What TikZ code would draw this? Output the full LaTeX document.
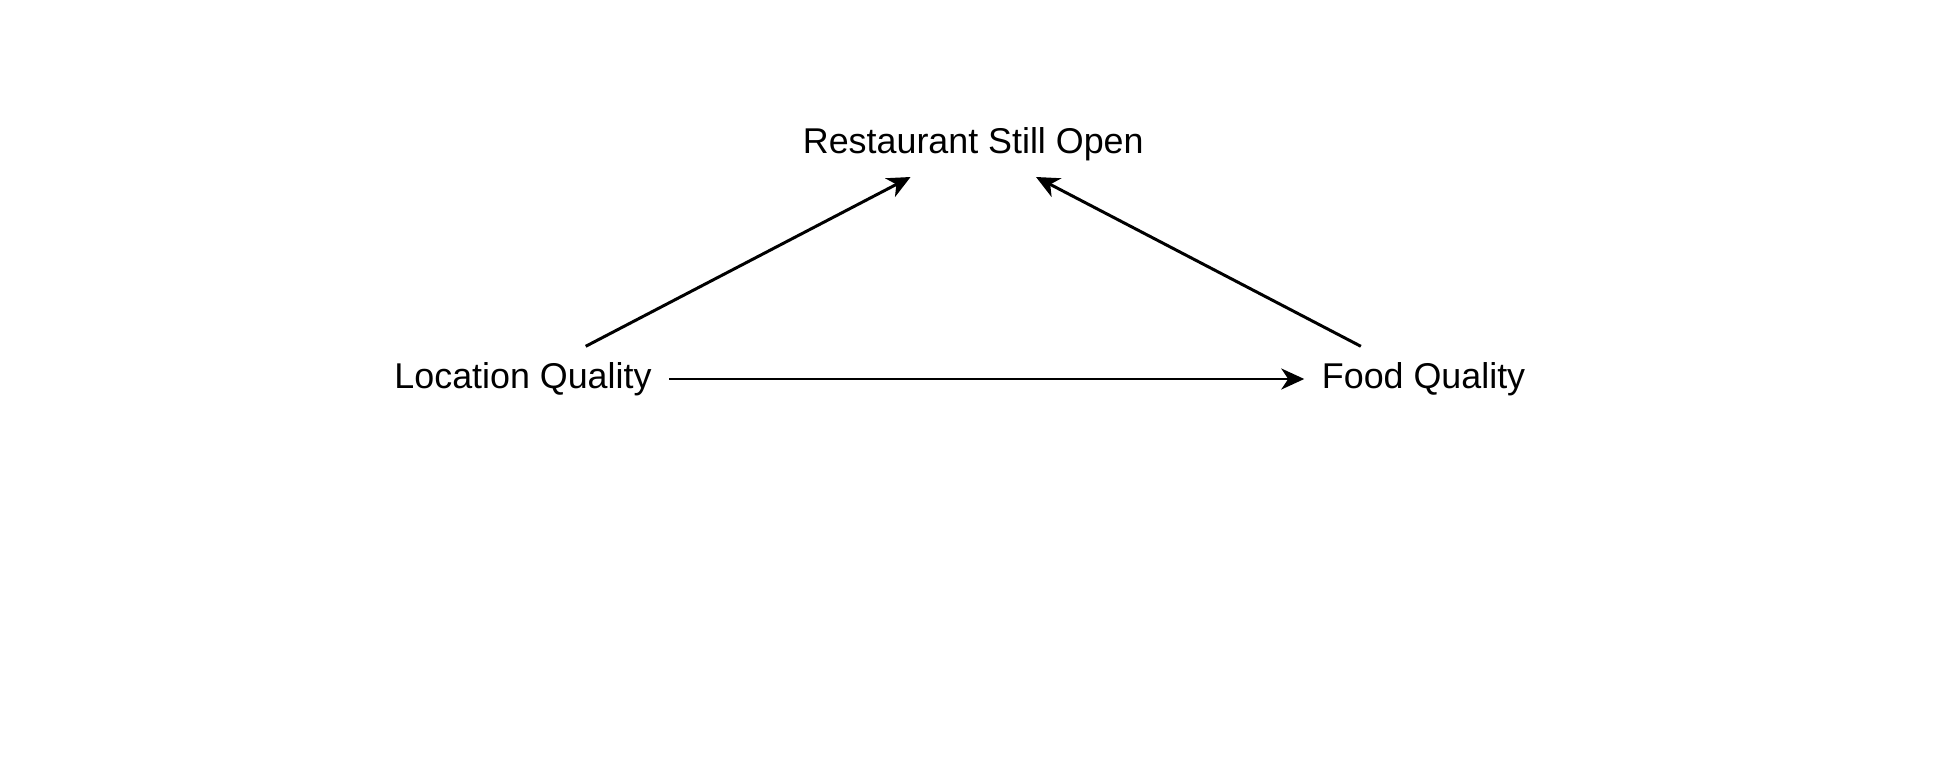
\documentclass[tikz,border=0pt]{standalone}
\usepackage{fontspec}
\setmainfont{Liberation Sans}
\usetikzlibrary{positioning,arrows.meta}

\begin{document}
\begin{tikzpicture}[
        node distance=6.35cm,
        varnode/.style={font=\fontsize{10.2}{12}\selectfont, text height=0.26cm, text depth=0.08cm, inner xsep=0.17cm, inner ysep=0.15cm},
        effect/.style={draw, line width=0.85pt, -{Stealth[length=0.23cm, width=0.21cm, inset=0.07cm]}}]
    \useasboundingbox (0,0) rectangle (19.44,7.56);
    \node[varnode] (L) at (5.23,3.77) {Location Quality};
    \node[varnode] (F) [right=of L] {Food Quality};
    \path (L.center) -- (F.center) coordinate[midway] (mid);
    \node[varnode] (R) [above=2.02cm of mid] {Restaurant Still Open};
    \path[effect] (L) edge (R);
    \path[effect] (F) edge (R);
    \path[effect] (L) edge (F);
\end{tikzpicture}
\end{document}
